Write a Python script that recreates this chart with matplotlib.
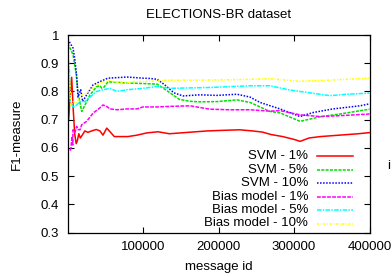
import matplotlib
matplotlib.use("Agg")
import matplotlib.pyplot as plt
from matplotlib.lines import Line2D

plt.rcParams['font.family'] = ['Liberation Sans', 'DejaVu Sans']

# SVM - 1%
svm1_x = [1500, 4000, 5500, 7500, 9500, 11500, 13000, 15000, 17000, 19500, 23000, 27000,
          32000, 38000, 43000, 47000, 52000, 57000, 62000, 70000, 80000, 92000, 105000,
          120000, 135000, 150000, 165000, 185000, 205000, 228000, 245000, 258000, 270000,
          285000, 300000, 308000, 320000, 335000, 360000, 385000, 400000]
svm1_y = [0.70, 0.80, 0.85, 0.74, 0.65, 0.615, 0.625, 0.65, 0.635, 0.645, 0.66, 0.655,
          0.66, 0.665, 0.66, 0.645, 0.67, 0.655, 0.64, 0.64, 0.64, 0.645, 0.653,
          0.657, 0.65, 0.653, 0.656, 0.66, 0.662, 0.664, 0.66, 0.656, 0.647,
          0.64, 0.63, 0.623, 0.635, 0.64, 0.645, 0.65, 0.654]

# SVM - 5%
svm5_x = [500, 3300, 7300, 11300, 13900, 18800, 23200, 29800, 38700, 43000, 45300, 48300,
          53600, 78800, 100000, 118500, 125000, 135800, 148000, 162000, 175500, 198000,
          224500, 241700, 255000, 268200, 281500, 308000, 334400, 360900, 400000]
svm5_y = [0.97, 0.954, 0.93, 0.866, 0.795, 0.729, 0.752, 0.788, 0.817, 0.82, 0.812, 0.815,
          0.834, 0.83, 0.828, 0.826, 0.815, 0.795, 0.772, 0.765, 0.763, 0.764,
          0.77, 0.761, 0.745, 0.729, 0.724, 0.694, 0.71, 0.72, 0.737]

# SVM - 10%
svm10_x = [500, 2400, 7300, 9900, 12200, 13900, 17500, 20100, 25400, 33800, 43000, 53600,
           78800, 100000, 109000, 118500, 128000, 141000, 153000, 175500, 198000, 224500,
           241700, 255000, 264200, 281500, 308000, 325000, 351600, 387400, 400000]
svm10_y = [0.985, 0.976, 0.954, 0.91, 0.853, 0.78, 0.806, 0.764, 0.788, 0.823, 0.835, 0.847,
           0.851, 0.847, 0.846, 0.843, 0.825, 0.795, 0.784, 0.788, 0.786, 0.79,
           0.78, 0.761, 0.753, 0.738, 0.711, 0.725, 0.738, 0.749, 0.756]

# Bias model - 1%
bias1_x = [3500, 4600, 6000, 6900, 7300, 9900, 12200, 13900, 16600, 18800, 25400, 33800,
           43000, 47000, 51900, 56300, 65600, 78800, 92000, 100000, 118500, 135800, 162300,
           188700, 215200, 241700, 268200, 281500, 308000, 334400, 360900, 400000]
bias1_y = [0.59, 0.60, 0.64, 0.61, 0.664, 0.655, 0.676, 0.665, 0.664, 0.682, 0.694, 0.723,
           0.742, 0.752, 0.747, 0.738, 0.735, 0.738, 0.738, 0.745, 0.745, 0.747, 0.749,
           0.737, 0.735, 0.735, 0.73, 0.732, 0.717, 0.711, 0.714, 0.72]

# Bias model - 5%
bias5_x = [1300, 2600, 3300, 7300, 12200, 16600, 23200, 29800, 38700, 47000, 56300, 65600,
           78800, 100000, 118500, 135800, 188700, 215200, 241700, 268200, 294500, 321000,
           347700, 370000, 400000]
bias5_y = [0.91, 0.87, 0.77, 0.742, 0.752, 0.764, 0.764, 0.78, 0.80, 0.806, 0.811, 0.80,
           0.806, 0.811, 0.817, 0.811, 0.814, 0.817, 0.82, 0.82, 0.805, 0.795,
           0.785, 0.79, 0.794]

# Bias model - 10%
bias10_x = [1300, 3300, 4600, 7300, 12200, 13900, 20500, 25400, 29800, 38700, 43000, 56300,
            60300, 78800, 86800, 100000, 118500, 131800, 175500, 228500, 268200, 308000,
            347700, 400000]
bias10_y = [0.89, 0.82, 0.75, 0.764, 0.76, 0.77, 0.788, 0.795, 0.806, 0.823, 0.83, 0.84,
            0.835, 0.83, 0.835, 0.835, 0.837, 0.84, 0.84, 0.842, 0.845, 0.836,
            0.84, 0.847]

labels = ['SVM - 1%', 'SVM - 5%', 'SVM - 10%',
          'Bias model - 1%', 'Bias model - 5%', 'Bias model - 10%']
xs = [svm1_x, svm5_x, svm10_x, bias1_x, bias5_x, bias10_x]
ys = [svm1_y, svm5_y, svm10_y, bias1_y, bias5_y, bias10_y]
colors = ['#ff0000', '#00e000', '#0000ff', '#ff00ff', '#00ffff', '#ffff00']
styles = ['-', (0, (2, 0.8)), (0, (1, 1)), (0, (2.5, 0.8)),
          (0, (3, 0.8, 1, 0.8)), (0, (1.5, 1, 0.6, 1))]

fig = plt.figure(figsize=(3.92, 2.77), dpi=100)
ax = fig.add_axes([67.5 / 392, 1 - 232.5 / 277, 302 / 392, 197.5 / 277])

for x, y, c, ls in zip(xs, ys, colors, styles):
    ax.plot(x, y, color=c, linestyle=ls, linewidth=1.1)

ax.set_xlim(0, 400000)
ax.set_ylim(0.3, 1.0)
ax.set_xticks([100000, 200000, 300000, 400000])
ax.set_xticklabels(['100000', '200000', '300000', '400000'])
ax.set_yticks([0.3, 0.4, 0.5, 0.6, 0.7, 0.8, 0.9, 1.0])
ax.set_yticklabels(['0.3', '0.4', '0.5', '0.6', '0.7', '0.8', '0.9', '1'])
ax.tick_params(direction='in', top=True, right=True, length=4, width=0.8,
               labelsize=9.5, pad=6)
for s in ax.spines.values():
    s.set_linewidth(0.9)

# legend drawn gnuplot-style: right-aligned text, sample line on the right
row_y = [156, 169.5, 183, 196.5, 210, 223.5]
for lab, c, ls, py in zip(labels, colors, styles, row_y):
    yy = (232.5 - py) / 197.5
    ax.text((308 - 67.5) / 302, yy, lab, transform=ax.transAxes,
            ha='right', va='center', fontsize=9.5)
    ax.add_line(Line2D([(317 - 67.5) / 302, (353 - 67.5) / 302], [yy, yy],
                       transform=ax.transAxes, color=c, linestyle=ls, linewidth=1.1))

fig.text(219 / 392, 1 - 15 / 277, 'ELECTIONS-BR dataset', ha='center', va='center', fontsize=9.5)
fig.text(219 / 392, 1 - 267 / 277, 'message id', ha='center', va='center', fontsize=9.5)
fig.text(17 / 392, 1 - 134 / 277, 'F1-measure', ha='center', va='center',
         rotation=90, fontsize=9.5)
fig.text(389 / 392, 1 - 166 / 277, 'i', ha='center', va='center', fontsize=9.5)

fig.savefig('out.png', dpi=100)
